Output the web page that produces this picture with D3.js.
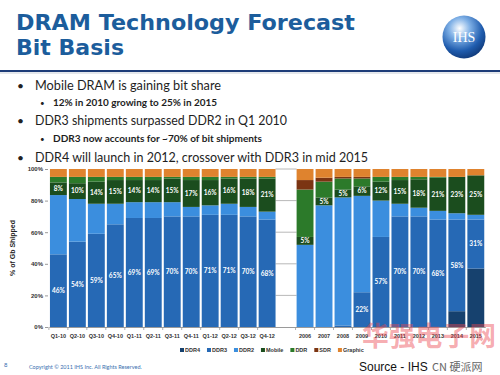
<!DOCTYPE html>
<html>
<head>
<meta charset="utf-8">
<script src="https://cdn.jsdelivr.net/npm/d3@7"></script>
<style>
  body { margin: 0; background: #fff; }
  text { font-family: "Lato", "Liberation Sans", sans-serif; }
</style>
</head>
<body>
<div id="chart"></div>
<script>
// categories
var quarters = ["Q1-10", "Q2-10", "Q3-10", "Q4-10", "Q1-11", "Q2-11", "Q3-11", "Q4-11", "Q1-12", "Q2-12", "Q3-12", "Q4-12"];
var years = ["2006", "2007", "2008", "2009", "2010", "2011", "2012", "2013", "2014", "2015"];
var categories = quarters.concat(years);

// % of Gb shipped, quarters first then years
var ddr4    = [0, 0, 0, 0, 0, 0, 0, 0, 0, 0, 0, 0,   0, 0, 0, 0, 0, 0, 0, 0, 10, 37];
var ddr3    = [46, 54, 59, 65, 69, 69, 70, 70, 71, 71, 70, 68,   0, 0, 1, 22, 57, 70, 70, 68, 58, 31];
var ddr2    = [37.5, 27, 19, 13, 10, 10, 9, 6, 6, 7, 6, 5,   52, 77, 81, 61, 23, 8, 5.5, 5.5, 4, 3];
var mobile  = [8, 10, 14, 15, 14, 14, 15, 17, 16, 16, 18, 21,   5, 5, 5, 6, 12, 15, 18, 21, 23, 25];
var ddr     = [3.5, 4, 3, 2, 2, 2, 1, 2, 2, 1, 1, 1,   30, 10, 7, 5, 3, 2, 1.5, 0.5, 0, 0];
var sdr     = [0, 0, 0, 0, 0, 0, 0, 0, 0, 0, 0, 0,   6, 2.5, 1, 1, 0, 0, 0, 0, 0, 0];
var graphic = [5, 5, 5, 5, 5, 5, 5, 5, 5, 5, 5, 5,   7, 5.5, 5, 5, 5, 5, 5, 5, 5, 4];

var seriesNames = ["DDR4", "DDR3", "DDR2", "Mobile", "DDR", "SDR", "Graphic"];
var seriesValues = [ddr4, ddr3, ddr2, mobile, ddr, sdr, graphic];
var yTicks = [0, 20, 40, 60, 80, 100];

var colorList = ["#16416e", "#2669b5", "#3b8ede", "#1b4d1e", "#2c7a2a", "#7b3412", "#df832e"];

var W = 500, H = 375;
var svg = d3.select("#chart").append("svg")
  .attr("width", W)
  .attr("height", H);

// ---------- header ----------
var defs = svg.append("defs");
var grad = defs.append("radialGradient").attr("id", "logoGrad")
  .attr("cx", "40%").attr("cy", "30%").attr("r", "70%");
grad.append("stop").attr("offset", "0%").attr("stop-color", "#ffffff");
grad.append("stop").attr("offset", "35%").attr("stop-color", "#7fb0e6");
grad.append("stop").attr("offset", "75%").attr("stop-color", "#1f5cae");
grad.append("stop").attr("offset", "100%").attr("stop-color", "#123e80");

svg.append("text")
  .attr("x", 16).attr("y", 30)
  .style("font-family", "DejaVu Sans, Verdana, sans-serif")
  .attr("font-weight", "bold").attr("font-size", 21)
  .attr("fill", "#1c5d9c")
  .attr("textLength", 339).attr("lengthAdjust", "spacingAndGlyphs")
  .text("DRAM Technology Forecast");
svg.append("text")
  .attr("x", 16).attr("y", 55)
  .style("font-family", "DejaVu Sans, Verdana, sans-serif")
  .attr("font-weight", "bold").attr("font-size", 21)
  .attr("fill", "#1c5d9c")
  .attr("textLength", 108).attr("lengthAdjust", "spacingAndGlyphs")
  .text("Bit Basis");

svg.append("circle").attr("cx", 464).attr("cy", 37).attr("r", 21.5)
  .attr("fill", "url(#logoGrad)");
svg.append("text").attr("x", 464).attr("y", 42)
  .attr("text-anchor", "middle")
  .style("font-family", "Liberation Serif, serif")
  .attr("font-size", 14).attr("fill", "#fff")
  .text("IHS");

svg.append("line").attr("x1", 0).attr("x2", W).attr("y1", 71).attr("y2", 71)
  .attr("stroke", "#1d3c78").attr("stroke-width", 2);
svg.append("line").attr("x1", 0).attr("x2", W).attr("y1", 73).attr("y2", 73)
  .attr("stroke", "#c9cfd8").attr("stroke-width", 1);

// bullets
var bullets = [
  { lvl: 0, y: 90, w: 186, t: "Mobile DRAM is gaining bit share" },
  { lvl: 1, y: 106, w: 164, t: "12% in 2010 growing to 25% in 2015" },
  { lvl: 0, y: 125, w: 252, t: "DDR3 shipments surpassed DDR2 in Q1 2010" },
  { lvl: 1, y: 142, w: 209, t: "DDR3 now accounts for ~70% of bit shipments" },
  { lvl: 0, y: 162, w: 333, t: "DDR4 will launch in 2012, crossover with DDR3 in mid 2015" }
];
bullets.forEach(function (b) {
  var tx = b.lvl ? 53 : 35;
  svg.append("text")
    .attr("x", b.lvl ? 40 : 17).attr("y", b.y)
    .attr("font-size", b.lvl ? 8 : 12).attr("fill", "#222")
    .text("\u2022");
  svg.append("text")
    .attr("x", tx).attr("y", b.y)
    .attr("font-size", b.lvl ? 9 : 14)
    .attr("font-weight", b.lvl ? "bold" : "normal")
    .attr("fill", "#1e1e1e")
    .attr("textLength", b.w).attr("lengthAdjust", "spacingAndGlyphs")
    .text(b.t);
});

// ---------- chart ----------
var spacer = " ";
var xBand = d3.scaleBand()
  .domain(quarters.concat([spacer], years))
  .range([49, 485.2])
  .paddingInner(0.11)
  .paddingOuter(0.05);
var yLinear = d3.scaleLinear().domain([0, 100]).range([327, 169]);

var rows = categories.map(function (c, i) {
  var r = { cat: c };
  seriesNames.forEach(function (s, j) { r[s] = seriesValues[j][i]; });
  return r;
});
var stacked = d3.stack().keys(seriesNames)(rows);

// grid lines only visible in the empty slot between the two groups
var gapX0 = xBand(quarters[quarters.length - 1]) + xBand.bandwidth();
var gapX1 = xBand(years[0]);
svg.append("g").selectAll("line").data(yTicks.slice(1)).enter().append("line")
  .attr("x1", gapX0).attr("x2", gapX1)
  .attr("y1", function (d) { return yLinear(d); })
  .attr("y2", function (d) { return yLinear(d); })
  .attr("stroke", "#a6a6a6").attr("stroke-width", 0.8);

var layers = svg.append("g").selectAll("g").data(stacked).enter().append("g")
  .attr("fill", function (d, i) { return colorList[i]; });
layers.selectAll("rect")
  .data(function (d) { return d.filter(function (p) { return p[1] - p[0] > 0; }); })
  .enter().append("rect")
  .attr("x", function (d) { return xBand(d.data.cat); })
  .attr("width", xBand.bandwidth())
  .attr("y", function (d) { return yLinear(d[1]); })
  .attr("height", function (d) { return yLinear(d[0]) - yLinear(d[1]); });

// data labels: DDR3 and Mobile
function addLabels(layerIdx, values, minVal) {
  svg.append("g").selectAll("text")
    .data(stacked[layerIdx].filter(function (p, i) { return values[i] >= minVal; }))
    .enter().append("text")
    .attr("x", function (d) { return xBand(d.data.cat) + xBand.bandwidth() / 2; })
    .attr("y", function (d) { return yLinear((d[0] + d[1]) / 2); })
    .attr("dy", "0.35em")
    .attr("text-anchor", "middle")
    .attr("font-size", 6.5).attr("font-weight", "bold")
    .attr("fill", "#fff")
    .text(function (d) { return d.data[seriesNames[layerIdx]] + "%"; });
}
addLabels(1, ddr3, 10);
addLabels(3, mobile, 1);

// x axis
var xAxisG = svg.append("g")
  .attr("transform", "translate(0," + yLinear(0) + ")")
  .call(d3.axisBottom(xBand).tickSize(0).tickPadding(7));
xAxisG.select(".domain").attr("stroke", "#9a9a9a");
xAxisG.selectAll("text")
  .attr("font-size", 5.5).attr("font-weight", "bold").attr("fill", "#333")
  .style("font-family", "Liberation Sans, sans-serif");
svg.append("g").selectAll("line")
  .data(categories)
  .enter().append("line")
  .attr("x1", function (d) { return xBand(d) - xBand.step() * xBand.paddingInner() / 2; })
  .attr("x2", function (d) { return xBand(d) - xBand.step() * xBand.paddingInner() / 2; })
  .attr("y1", yLinear(0)).attr("y2", yLinear(0) + 3)
  .attr("stroke", "#9a9a9a").attr("stroke-width", 0.8);

// y axis
var yAxisG = svg.append("g")
  .attr("transform", "translate(48,0)")
  .call(d3.axisLeft(yLinear).tickValues(yTicks).tickSize(3).tickPadding(2)
    .tickFormat(function (d) { return d + "%"; }));
yAxisG.select(".domain").remove();
yAxisG.selectAll("line").attr("stroke", "#9a9a9a");
yAxisG.selectAll("text")
  .attr("font-size", 6).attr("font-weight", "bold").attr("fill", "#333")
  .style("font-family", "Liberation Sans, sans-serif");

svg.append("text")
  .attr("transform", "translate(15," + yLinear(50) + ") rotate(-90)")
  .attr("text-anchor", "middle")
  .attr("font-size", 7).attr("font-weight", "bold").attr("fill", "#222")
  .style("font-family", "Liberation Sans, sans-serif")
  .text("% of Gb Shipped");

// legend
var legend = svg.append("g").attr("transform", "translate(180,352)");
var lx = 0;
seriesNames.forEach(function (name, i) {
  legend.append("rect").attr("x", lx).attr("y", -4).attr("width", 4).attr("height", 4)
    .attr("fill", colorList[i]);
  var t = legend.append("text").attr("x", lx + 5).attr("y", 0)
    .attr("font-size", 5.5).attr("font-weight", "bold").attr("fill", "#333")
    .style("font-family", "Liberation Sans, sans-serif")
    .text(name);
  lx += 5 + t.node().getComputedTextLength() + 7;
});

// footer
svg.append("text").attr("x", 4).attr("y", 367)
  .attr("font-size", 6).attr("fill", "#3a6fb0").text("8");
svg.append("text").attr("x", 29).attr("y", 369)
  .attr("font-size", 5.5).attr("fill", "#3a6fb0")
  .text("Copyright \u00a9 2011 IHS Inc. All Rights Reserved.");

// watermark
svg.append("text").attr("x", 362).attr("y", 346)
  .style("font-family", "Noto Sans CJK SC, sans-serif")
  .attr("font-size", 27).attr("font-weight", "bold")
  .attr("fill", "rgba(236,70,80,0.45)")
  .attr("textLength", 134).attr("lengthAdjust", "spacingAndGlyphs")
  .text("华强电子网");
svg.append("text").attr("x", 359).attr("y", 371)
  .style("font-family", "Liberation Sans, sans-serif")
  .attr("font-size", 12).attr("fill", "#111")
  .text("Source - IHS");
svg.append("text").attr("x", 432).attr("y", 371)
  .style("font-family", "Noto Sans CJK SC, sans-serif")
  .attr("font-size", 11).attr("fill", "#666")
  .text("CN 硬派网");
</script>
</body>
</html>
